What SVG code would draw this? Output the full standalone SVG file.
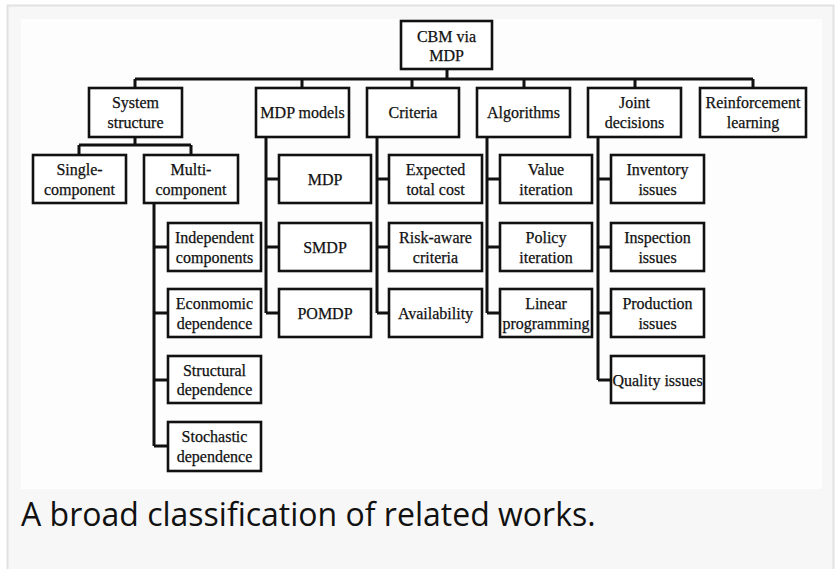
<svg xmlns="http://www.w3.org/2000/svg" width="838" height="569" viewBox="0 0 838 569">
<style>
.bx{fill:#fff;stroke:#111;stroke-width:2.6}
.t{font-family:"Liberation Serif","Times New Roman",serif;font-size:16px;fill:#111;text-anchor:middle;stroke:#111;stroke-width:0.25}
.c{fill:none;stroke:#111;stroke-width:3}
.cap{font-family:"Open Sans","Noto Sans",sans-serif;font-size:32px;fill:#111}
</style>
<rect x="0" y="0" width="838" height="569" fill="#fff"/>
<rect x="7.5" y="5.5" width="826" height="580" fill="#f7f7f7" stroke="#e2e2e2" stroke-width="2"/>
<rect x="21" y="19" width="801" height="470" fill="#fdfdfd"/>

<g id="connectors">
<path class="c" d="M447,69V79M135,79H753M135,79V88M302,79V88M412,79V88M524,79V88M635,79V88M753,79V88"/>
<path class="c" d="M135,137V145M79,145H191M79,145V155M191,145V155"/>
<path class="c" d="M154,203V446M154,247H168M154,313H168M154,380H168M154,446H168"/>
<path class="c" d="M266,137V313M266,179H279M266,247H279M266,313H279"/>
<path class="c" d="M377,137V313M377,179H389M377,247H389M377,313H389"/>
<path class="c" d="M487,137V313M487,179H500M487,247H500M487,313H500"/>
<path class="c" d="M598,137V380M598,179H611M598,247H611M598,313H611M598,380H611"/>
</g>

<g id="root"><rect class="bx" x="401" y="21" width="91" height="48"/><text class="t" x="446.5" y="41.5">CBM via</text><text class="t" x="446.5" y="61">MDP</text></g>

<g id="system-structure"><rect class="bx" x="89" y="88" width="93" height="49"/><text class="t" x="135.5" y="108">System</text><text class="t" x="135.5" y="127.5">structure</text></g>
<g id="mdp-models"><rect class="bx" x="256" y="88" width="93" height="49"/><text class="t" x="302.5" y="118">MDP models</text></g>
<g id="criteria"><rect class="bx" x="367" y="88" width="92" height="49"/><text class="t" x="413" y="118">Criteria</text></g>
<g id="algorithms"><rect class="bx" x="477" y="88" width="93" height="49"/><text class="t" x="523.5" y="118">Algorithms</text></g>
<g id="joint-decisions"><rect class="bx" x="588" y="88" width="93" height="49"/><text class="t" x="634.5" y="108">Joint</text><text class="t" x="634.5" y="127.5">decisions</text></g>
<g id="reinforcement-learning"><rect class="bx" x="700" y="88" width="106" height="49"/><text class="t" x="753" y="108">Reinforcement</text><text class="t" x="753" y="127.5">learning</text></g>

<g id="single-component"><rect class="bx" x="33" y="155" width="93" height="48"/><text class="t" x="79.5" y="175">Single-</text><text class="t" x="79.5" y="194.5">component</text></g>
<g id="multi-component"><rect class="bx" x="144" y="155" width="94" height="48"/><text class="t" x="191" y="175">Multi-</text><text class="t" x="191" y="194.5">component</text></g>

<g id="independent-components"><rect class="bx" x="168" y="223" width="93" height="48"/><text class="t" x="214.5" y="243">Independent</text><text class="t" x="214.5" y="262.5">components</text></g>
<g id="economic-dependence"><rect class="bx" x="168" y="289" width="93" height="48"/><text class="t" x="214.5" y="309">Econmomic</text><text class="t" x="214.5" y="328.5">dependence</text></g>
<g id="structural-dependence"><rect class="bx" x="168" y="356" width="93" height="47"/><text class="t" x="214.5" y="375.5">Structural</text><text class="t" x="214.5" y="395">dependence</text></g>
<g id="stochastic-dependence"><rect class="bx" x="168" y="422" width="93" height="49"/><text class="t" x="214.5" y="442">Stochastic</text><text class="t" x="214.5" y="461.5">dependence</text></g>

<g id="mdp"><rect class="bx" x="279" y="155" width="92" height="48"/><text class="t" x="325" y="185">MDP</text></g>
<g id="smdp"><rect class="bx" x="279" y="223" width="92" height="48"/><text class="t" x="325" y="253">SMDP</text></g>
<g id="pomdp"><rect class="bx" x="279" y="289" width="92" height="48"/><text class="t" x="325" y="319">POMDP</text></g>

<g id="expected-total-cost"><rect class="bx" x="389" y="155" width="93" height="48"/><text class="t" x="435.5" y="175">Expected</text><text class="t" x="435.5" y="194.5">total cost</text></g>
<g id="risk-aware-criteria"><rect class="bx" x="389" y="223" width="93" height="48"/><text class="t" x="435.5" y="243">Risk-aware</text><text class="t" x="435.5" y="262.5">criteria</text></g>
<g id="availability"><rect class="bx" x="389" y="289" width="93" height="48"/><text class="t" x="435.5" y="319">Availability</text></g>

<g id="value-iteration"><rect class="bx" x="500" y="155" width="92" height="48"/><text class="t" x="546" y="175">Value</text><text class="t" x="546" y="194.5">iteration</text></g>
<g id="policy-iteration"><rect class="bx" x="500" y="223" width="92" height="48"/><text class="t" x="546" y="243">Policy</text><text class="t" x="546" y="262.5">iteration</text></g>
<g id="linear-programming"><rect class="bx" x="500" y="289" width="92" height="48"/><text class="t" x="546" y="309">Linear</text><text class="t" x="546" y="328.5">programming</text></g>

<g id="inventory-issues"><rect class="bx" x="611" y="155" width="93" height="48"/><text class="t" x="657.5" y="175">Inventory</text><text class="t" x="657.5" y="194.5">issues</text></g>
<g id="inspection-issues"><rect class="bx" x="611" y="223" width="93" height="48"/><text class="t" x="657.5" y="243">Inspection</text><text class="t" x="657.5" y="262.5">issues</text></g>
<g id="production-issues"><rect class="bx" x="611" y="289" width="93" height="48"/><text class="t" x="657.5" y="309">Production</text><text class="t" x="657.5" y="328.5">issues</text></g>
<g id="quality-issues"><rect class="bx" x="611" y="356" width="93" height="47"/><text class="t" x="657.5" y="385.5">Quality issues</text></g>

<text class="cap" x="21" y="526">A broad classification of related works.</text>
</svg>
